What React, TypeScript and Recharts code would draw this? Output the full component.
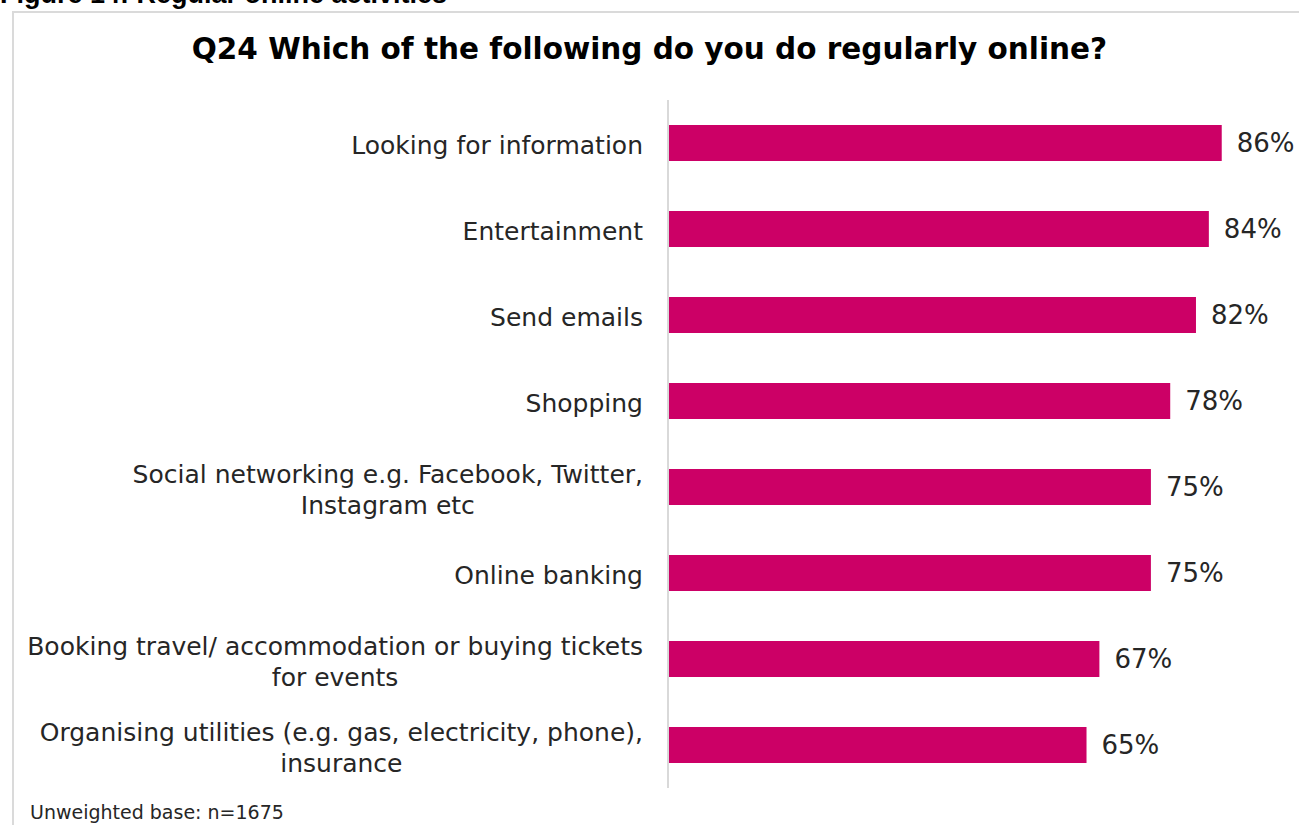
import { BarChart, Bar, XAxis, YAxis, LabelList } from "recharts"

const categories = [
  "Looking for information",
  "Entertainment",
  "Send emails",
  "Shopping",
  "Social networking e.g. Facebook, Twitter,\nInstagram etc",
  "Online banking",
  "Booking travel/ accommodation or buying tickets\nfor events",
  "Organising utilities (e.g. gas, electricity, phone),\ninsurance",
]
const shares = [86, 84, 82, 78, 75, 75, 67, 65]

const chartData = categories.map((name, i) => ({ name, value: shares[i] }))

const FONT = "'DejaVu Sans', sans-serif"
const LABEL_SIZE = 25
const BAR_COLOR = "#cc0066"

let ctx: CanvasRenderingContext2D | null = null
function measure(text: string) {
  if (!ctx) ctx = document.createElement("canvas").getContext("2d")
  if (!ctx) return text.length * 12
  ctx.font = `${LABEL_SIZE}px ${FONT}`
  return ctx.measureText(text).width
}

// multi-line labels: lines centred on each other, block right-aligned
function CategoryTick({ x, y, payload }: any) {
  const lines = String(payload.value).split("\n")
  const right = x - 17
  const widest = Math.max(...lines.map(measure))
  const cx = right - widest / 2
  const lineH = 31
  const y0 = y + 2 - ((lines.length - 1) * lineH) / 2
  return (
    <text
      fontFamily={FONT}
      fontSize={LABEL_SIZE}
      fill="#262626"
      textAnchor={lines.length > 1 ? "middle" : "end"}
      dominantBaseline="central"
    >
      {lines.map((l, i) => (
        <tspan key={i} x={lines.length > 1 ? cx : right} y={y0 + i * lineH}>
          {l}
        </tspan>
      ))}
    </text>
  )
}

export default function App() {
  return (
    <div
      style={{
        position: "absolute",
        left: 0,
        top: 0,
        width: 1299,
        height: 825,
        overflow: "hidden",
        background: "#fff",
      }}
    >
      <div
        style={{
          position: "absolute",
          left: 0,
          top: -21,
          fontFamily: "'Liberation Sans', Arial, sans-serif",
          fontWeight: "bold",
          fontSize: 27,
          color: "#000",
          whiteSpace: "nowrap",
        }}
      >
        Figure 14: Regular online activities
      </div>
      <div
        style={{
          position: "absolute",
          left: 12,
          top: 11,
          width: 1320,
          height: 840,
          border: "2px solid #dadada",
        }}
      />
      <div
        style={{
          position: "absolute",
          left: 0,
          top: 32,
          width: 1299,
          textAlign: "center",
          fontFamily: FONT,
          fontWeight: "bold",
          fontSize: 29.5,
          color: "#000",
        }}
      >
        Q24 Which of the following do you do regularly online?
      </div>
      <div style={{ position: "absolute", left: 0, top: 0 }}>
        <BarChart
          width={1299}
          height={825}
          data={chartData}
          layout="vertical"
          margin={{ top: 100, right: 0, bottom: 37, left: 0 }}
          barCategoryGap={25}
        >
          <XAxis type="number" domain={[0, 98]} hide allowDataOverflow />
          <YAxis
            type="category"
            dataKey="name"
            width={668}
            axisLine={{ stroke: "#d9d9d9", strokeWidth: 2 }}
            tickLine={false}
            tick={<CategoryTick />}
            interval={0}
          />
          <Bar dataKey="value" fill={BAR_COLOR} barSize={36} isAnimationActive={false}>
            <LabelList
              dataKey="value"
              position="right"
              offset={15}
              formatter={(v: any) => `${v}%`}
              style={{ fontFamily: FONT, fontSize: 26, fill: "#262626" }}
            />
          </Bar>
        </BarChart>
      </div>
      <div
        style={{
          position: "absolute",
          left: 30,
          top: 801,
          fontFamily: FONT,
          fontSize: 19,
          color: "#262626",
        }}
      >
        Unweighted base: n=1675
      </div>
    </div>
  )
}
